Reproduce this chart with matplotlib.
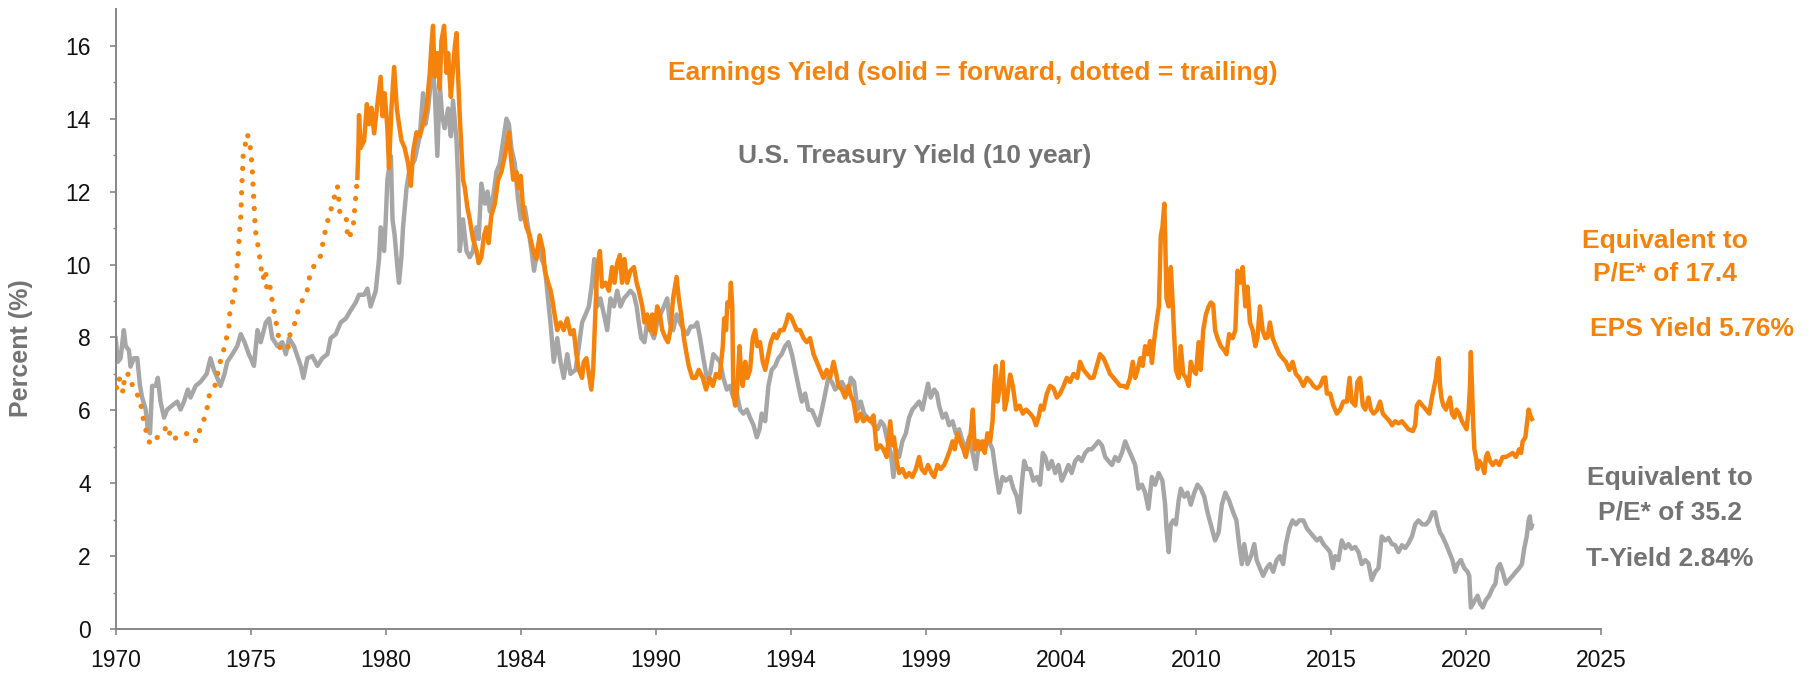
import matplotlib
matplotlib.use("Agg")
import matplotlib.pyplot as plt
import numpy as np

# trailing earnings yield (dotted)
trailing_year = [1970.03, 1970.12, 1970.28, 1970.33, 1970.53, 1970.65, 1970.90, 1970.98, 1971.11, 1971.27,
                 1971.51, 1971.72, 1971.91, 1972.08, 1972.40, 1972.71, 1972.98, 1973.14, 1973.37, 1973.42,
                 1973.66, 1973.86, 1974.03, 1974.19, 1974.23, 1974.38, 1974.45, 1974.50, 1974.55, 1974.58,
                 1974.63, 1974.65, 1974.67, 1974.70, 1974.72, 1974.87, 1974.95, 1975.02, 1975.06, 1975.09,
                 1975.12, 1975.15, 1975.19, 1975.30, 1975.37, 1975.45, 1975.55, 1975.60, 1975.70, 1975.80,
                 1975.91, 1976.01, 1976.09, 1976.24, 1976.38, 1976.46, 1976.67, 1976.79, 1977.07, 1977.17,
                 1977.35, 1977.59, 1977.69, 1977.81, 1977.94, 1978.09, 1978.21, 1978.27, 1978.31, 1978.54,
                 1978.58, 1978.64, 1978.80, 1978.85, 1978.90, 1978.95]
trailing_yield = [6.62, 6.90, 6.48, 7.00, 6.98, 6.57, 6.33, 5.91, 5.48, 5.07,
                  5.24, 5.35, 5.59, 5.17, 5.33, 5.37, 5.15, 5.53, 5.93, 6.35,
                  6.62, 7.30, 7.74, 8.28, 8.72, 9.12, 9.55, 9.99, 10.40, 10.86,
                  11.29, 11.73, 12.16, 12.62, 12.98, 13.58, 13.40, 12.98, 12.57, 12.10,
                  11.70, 11.24, 10.83, 10.39, 9.96, 9.60, 9.85, 9.30, 9.45, 8.98,
                  8.54, 8.11, 7.70, 7.62, 7.70, 8.11, 8.45, 8.87, 9.20, 9.63,
                  9.98, 10.24, 10.67, 11.10, 11.42, 11.84, 12.15, 11.72, 11.32, 11.24,
                  10.83, 10.70, 11.10, 11.53, 11.97, 12.38]

# forward earnings yield (solid)
forward_year = [1978.95, 1978.99, 1979.01, 1979.07, 1979.20, 1979.30, 1979.38, 1979.47, 1979.57, 1979.69,
                1979.81, 1979.88, 1979.96, 1980.06, 1980.12, 1980.21, 1980.31, 1980.41, 1980.49, 1980.58,
                1980.70, 1980.83, 1980.93, 1981.01, 1981.14, 1981.26, 1981.38, 1981.51, 1981.63, 1981.69,
                1981.75, 1981.81, 1981.91, 1982.00, 1982.06, 1982.16, 1982.25, 1982.31, 1982.41, 1982.49,
                1982.56, 1982.62, 1982.68, 1982.74, 1982.80, 1982.86, 1982.93, 1983.02, 1983.11, 1983.23,
                1983.36, 1983.44, 1983.54, 1983.64, 1983.73, 1983.81, 1983.91, 1984.04, 1984.16, 1984.28,
                1984.41, 1984.51, 1984.56, 1984.63, 1984.72, 1984.84, 1984.90, 1985.00, 1985.09, 1985.21,
                1985.33, 1985.46, 1985.58, 1985.70, 1985.83, 1985.89, 1986.01, 1986.10, 1986.16, 1986.25,
                1986.35, 1986.47, 1986.59, 1986.72, 1986.84, 1986.96, 1987.06, 1987.15, 1987.27, 1987.33,
                1987.43, 1987.52, 1987.61, 1987.68, 1987.77, 1987.83, 1987.93, 1988.01, 1988.14, 1988.26,
                1988.38, 1988.47, 1988.57, 1988.67, 1988.75, 1988.84, 1988.94, 1989.06, 1989.19, 1989.29,
                1989.37, 1989.50, 1989.58, 1989.68, 1989.78, 1989.87, 1989.95, 1990.05, 1990.15, 1990.24,
                1990.36, 1990.45, 1990.54, 1990.64, 1990.77, 1990.85, 1990.94, 1991.04, 1991.14, 1991.22,
                1991.35, 1991.47, 1991.59, 1991.74, 1991.86, 1991.99, 1992.11, 1992.23, 1992.36, 1992.48,
                1992.53, 1992.60, 1992.65, 1992.73, 1992.78, 1992.83, 1992.87, 1992.94, 1993.02, 1993.10,
                1993.15, 1993.22, 1993.31, 1993.39, 1993.49, 1993.59, 1993.68, 1993.76, 1993.86, 1993.96,
                1994.05, 1994.17, 1994.26, 1994.38, 1994.48, 1994.60, 1994.73, 1994.83, 1994.91, 1995.00,
                1995.10, 1995.22, 1995.34, 1995.47, 1995.59, 1995.71, 1995.84, 1995.96, 1996.08, 1996.21,
                1996.33, 1996.45, 1996.58, 1996.68, 1996.76, 1996.89, 1997.01, 1997.13, 1997.22, 1997.32,
                1997.44, 1997.57, 1997.69, 1997.81, 1997.94, 1998.06, 1998.18, 1998.31, 1998.43, 1998.55,
                1998.68, 1998.76, 1998.82, 1998.92, 1999.01, 1999.13, 1999.26, 1999.38, 1999.50, 1999.63,
                1999.75, 1999.84, 1999.96, 2000.08, 2000.21, 2000.31, 2000.43, 2000.55, 2000.68, 2000.80,
                2000.90, 2000.99, 2001.07, 2001.17, 2001.27, 2001.39, 2001.48, 2001.57, 2001.66, 2001.74,
                2001.81, 2001.91, 2002.01, 2002.10, 2002.18, 2002.28, 2002.38, 2002.47, 2002.53, 2002.59,
                2002.65, 2002.75, 2002.84, 2002.92, 2003.00, 2003.12, 2003.22, 2003.34, 2003.47, 2003.59,
                2003.71, 2003.86, 2003.98, 2004.08, 2004.17, 2004.26, 2004.35, 2004.48, 2004.60, 2004.73,
                2004.85, 2004.97, 2005.10, 2005.22, 2005.34, 2005.47, 2005.61, 2005.71, 2005.84, 2005.96,
                2006.08, 2006.21, 2006.33, 2006.45, 2006.58, 2006.70, 2006.82, 2006.95, 2007.07, 2007.19,
                2007.32, 2007.44, 2007.56, 2007.66, 2007.75, 2007.84, 2007.94, 2008.03, 2008.12, 2008.21,
                2008.30, 2008.37, 2008.45, 2008.54, 2008.63, 2008.70, 2008.76, 2008.83, 2008.86, 2008.91,
                2008.99, 2009.07, 2009.13, 2009.20, 2009.26, 2009.36, 2009.44, 2009.53, 2009.63, 2009.73,
                2009.81, 2009.90, 2010.00, 2010.10, 2010.18, 2010.27, 2010.37, 2010.47, 2010.55, 2010.64,
                2010.71, 2010.80, 2010.92, 2011.05, 2011.13, 2011.23, 2011.36, 2011.46, 2011.54, 2011.63,
                2011.73, 2011.83, 2011.91, 2012.00, 2012.10, 2012.20, 2012.28, 2012.37, 2012.47, 2012.57,
                2012.65, 2012.74, 2012.84, 2012.96, 2013.09, 2013.21, 2013.33, 2013.46, 2013.58, 2013.70,
                2013.83, 2013.98, 2014.11, 2014.23, 2014.35, 2014.48, 2014.60, 2014.72, 2014.79, 2014.85,
                2014.97, 2015.09, 2015.22, 2015.34, 2015.46, 2015.59, 2015.69, 2015.77, 2015.90, 2015.98,
                2016.08, 2016.18, 2016.27, 2016.39, 2016.48, 2016.58, 2016.70, 2016.82, 2016.92, 2017.05,
                2017.17, 2017.26, 2017.38, 2017.50, 2017.63, 2017.75, 2017.87, 2018.03, 2018.12, 2018.18,
                2018.27, 2018.39, 2018.52, 2018.64, 2018.74, 2018.83, 2018.89, 2018.95, 2018.99, 2019.04,
                2019.09, 2019.16, 2019.26, 2019.36, 2019.41, 2019.48, 2019.57, 2019.65, 2019.75, 2019.85,
                2019.94, 2020.02, 2020.10, 2020.15, 2020.18, 2020.22, 2020.27, 2020.31, 2020.37, 2020.43,
                2020.49, 2020.59, 2020.68, 2020.74, 2020.80, 2020.89, 2020.99, 2021.11, 2021.23, 2021.36,
                2021.48, 2021.60, 2021.73, 2021.85, 2021.97, 2022.04, 2022.10, 2022.20, 2022.25, 2022.32,
                2022.41, 2022.44]
forward_yield = [12.38, 13.30, 14.10, 13.20, 13.40, 14.40, 13.85, 14.30, 13.60, 14.40,
                 15.15, 14.07, 14.70, 13.74, 12.65, 14.28, 15.42, 14.28, 13.85, 13.41,
                 13.20, 12.76, 12.16, 13.09, 13.63, 13.52, 13.85, 14.28, 15.26, 16.00,
                 16.55, 15.15, 15.80, 14.83, 16.13, 16.55, 15.26, 15.80, 14.60, 15.37,
                 16.00, 16.35, 15.15, 14.07, 13.20, 12.33, 12.10, 11.57, 11.24, 10.70,
                 10.37, 10.04, 10.20, 10.80, 11.02, 10.59, 11.35, 11.67, 12.33, 12.54,
                 12.98, 13.41, 13.63, 12.98, 12.33, 12.54, 12.10, 12.43, 11.46, 11.02,
                 10.80, 10.37, 10.15, 10.80, 10.37, 9.83, 9.50, 9.30, 9.07, 8.63,
                 8.20, 8.41, 8.20, 8.52, 8.09, 8.20, 7.54, 7.11, 6.89, 7.33,
                 7.43, 7.00, 6.57, 7.11, 8.85, 9.93, 10.37, 9.39, 9.50, 9.28,
                 9.93, 9.50, 10.04, 10.26, 9.50, 10.15, 9.50, 9.83, 9.93, 9.50,
                 9.28, 8.85, 8.41, 8.63, 8.20, 8.63, 8.09, 8.85, 8.63, 8.20,
                 7.98, 7.87, 8.20, 9.07, 9.66, 9.07, 8.63, 7.98, 7.54, 7.22,
                 6.89, 6.89, 7.11, 6.89, 6.57, 6.89, 6.67, 7.00, 6.89, 7.76,
                 8.52, 8.20, 8.96, 8.85, 9.50, 8.85, 6.46, 6.13, 6.67, 7.76,
                 7.11, 6.67, 7.33, 6.89, 7.11, 7.98, 8.20, 7.76, 7.87, 7.33,
                 7.11, 7.54, 7.87, 8.09, 7.98, 8.20, 8.20, 8.41, 8.63, 8.58,
                 8.41, 8.20, 8.20, 7.98, 7.87, 7.98, 7.54, 7.33, 7.11, 6.89,
                 7.11, 6.89, 7.33, 7.00, 6.67, 6.57, 6.35, 6.67, 6.40, 6.24,
                 5.70, 5.91, 5.70, 5.80, 5.70, 5.86, 4.93, 5.04, 4.93, 4.72,
                 5.70, 5.04, 5.26, 4.61, 4.28, 4.39, 4.17, 4.28, 4.17, 4.39,
                 4.72, 4.39, 4.28, 4.50, 4.28, 4.17, 4.50, 4.39, 4.50, 4.72,
                 4.93, 5.15, 4.93, 5.37, 5.15, 4.93, 4.72, 5.04, 5.37, 6.02,
                 4.93, 5.15, 4.93, 5.15, 4.83, 5.37, 5.15, 5.70, 6.67, 7.22,
                 6.24, 6.67, 7.33, 6.02, 6.30, 6.98, 6.67, 6.02, 6.13, 5.91,
                 6.02, 5.91, 5.80, 5.59, 5.80, 6.13, 6.02, 6.46, 6.67, 6.60,
                 6.35, 6.46, 6.67, 6.89, 6.78, 7.00, 6.89, 7.33, 7.11, 7.00,
                 6.89, 6.90, 7.22, 7.54, 7.43, 7.22, 7.00, 6.89, 6.78, 6.67,
                 6.67, 6.62, 6.89, 7.33, 6.89, 7.11, 7.43, 7.22, 7.76, 7.54,
                 7.90, 7.30, 7.90, 8.41, 8.85, 10.80, 11.02, 11.67, 10.80, 9.07,
                 8.85, 9.93, 9.07, 7.98, 7.11, 6.89, 7.76, 7.00, 6.89, 6.67,
                 7.33, 7.11, 7.00, 7.87, 7.11, 8.20, 8.63, 8.85, 8.96, 8.90,
                 8.20, 7.98, 7.76, 7.65, 7.54, 8.09, 7.98, 8.20, 9.83, 9.50,
                 9.93, 8.85, 9.39, 8.41, 8.20, 7.76, 8.00, 8.85, 8.20, 7.98,
                 8.00, 8.41, 7.98, 7.76, 7.54, 7.43, 7.33, 7.11, 7.33, 7.00,
                 6.89, 6.67, 6.89, 6.80, 6.67, 6.60, 6.67, 6.89, 6.90, 6.46,
                 6.46, 6.13, 5.91, 6.02, 6.24, 6.24, 6.89, 6.24, 6.13, 6.78,
                 6.89, 6.13, 6.02, 6.35, 6.02, 5.91, 6.00, 6.24, 5.91, 5.80,
                 5.70, 5.59, 5.70, 5.64, 5.70, 5.59, 5.48, 5.43, 5.59, 6.13,
                 6.24, 6.13, 6.02, 5.91, 6.35, 6.67, 6.89, 7.33, 7.43, 6.67,
                 6.35, 6.13, 6.02, 6.24, 6.35, 5.91, 5.80, 6.02, 5.91, 5.70,
                 5.59, 5.48, 6.02, 6.67, 7.60, 6.67, 5.59, 4.93, 4.72, 4.39,
                 4.61, 4.50, 4.28, 4.72, 4.83, 4.61, 4.50, 4.61, 4.50, 4.72,
                 4.72, 4.77, 4.83, 4.72, 4.93, 4.83, 5.15, 5.26, 5.59, 6.02,
                 5.80, 5.76]

# 10-year U.S. Treasury yield
tsy_year = [1970.00, 1970.08, 1970.18, 1970.30, 1970.37, 1970.49, 1970.55, 1970.67, 1970.80, 1970.90,
            1970.98, 1971.11, 1971.19, 1971.27, 1971.35, 1971.48, 1971.56, 1971.66, 1971.79, 1971.91,
            1972.09, 1972.28, 1972.40, 1972.53, 1972.67, 1972.77, 1972.96, 1973.14, 1973.37, 1973.51,
            1973.64, 1973.76, 1973.88, 1974.03, 1974.13, 1974.32, 1974.50, 1974.63, 1974.77, 1974.93,
            1975.06, 1975.12, 1975.25, 1975.37, 1975.56, 1975.68, 1975.80, 1975.99, 1976.17, 1976.30,
            1976.42, 1976.60, 1976.85, 1976.95, 1977.10, 1977.28, 1977.47, 1977.65, 1977.84, 1977.96,
            1978.15, 1978.33, 1978.52, 1978.70, 1978.89, 1979.01, 1979.20, 1979.32, 1979.44, 1979.63,
            1979.75, 1979.81, 1979.94, 1980.00, 1980.06, 1980.19, 1980.25, 1980.33, 1980.43, 1980.49,
            1980.58, 1980.64, 1980.77, 1980.89, 1981.07, 1981.26, 1981.38, 1981.47, 1981.57, 1981.69,
            1981.72, 1981.81, 1981.91, 1982.00, 1982.09, 1982.18, 1982.31, 1982.41, 1982.49, 1982.62,
            1982.68, 1982.74, 1982.86, 1982.99, 1983.11, 1983.23, 1983.36, 1983.44, 1983.54, 1983.67,
            1983.77, 1983.85, 1983.98, 1984.10, 1984.22, 1984.35, 1984.47, 1984.56, 1984.65, 1984.78,
            1984.90, 1985.00, 1985.15, 1985.27, 1985.40, 1985.49, 1985.58, 1985.67, 1985.77, 1985.89,
            1986.01, 1986.10, 1986.22, 1986.35, 1986.47, 1986.59, 1986.72, 1986.84, 1987.03, 1987.15,
            1987.27, 1987.40, 1987.52, 1987.64, 1987.72, 1987.83, 1987.95, 1988.08, 1988.20, 1988.32,
            1988.45, 1988.57, 1988.69, 1988.82, 1988.94, 1989.06, 1989.19, 1989.29, 1989.37, 1989.46,
            1989.58, 1989.68, 1989.80, 1989.93, 1990.05, 1990.17, 1990.30, 1990.42, 1990.52, 1990.64,
            1990.77, 1990.89, 1991.04, 1991.16, 1991.29, 1991.43, 1991.53, 1991.64, 1991.76, 1991.89,
            1992.01, 1992.13, 1992.26, 1992.38, 1992.50, 1992.63, 1992.75, 1992.87, 1993.00, 1993.12,
            1993.24, 1993.37, 1993.49, 1993.62, 1993.74, 1993.84, 1993.92, 1994.05, 1994.17, 1994.29,
            1994.42, 1994.54, 1994.66, 1994.79, 1994.91, 1995.04, 1995.16, 1995.28, 1995.41, 1995.53,
            1995.65, 1995.78, 1995.90, 1996.02, 1996.15, 1996.27, 1996.39, 1996.52, 1996.64, 1996.76,
            1996.89, 1997.01, 1997.13, 1997.22, 1997.34, 1997.47, 1997.59, 1997.71, 1997.84, 1997.96,
            1998.08, 1998.21, 1998.33, 1998.45, 1998.58, 1998.70, 1998.80, 1998.89, 1999.01, 1999.13,
            1999.26, 1999.38, 1999.50, 1999.63, 1999.75, 1999.87, 2000.00, 2000.08, 2000.18, 2000.31,
            2000.41, 2000.49, 2000.62, 2000.74, 2000.86, 2000.99, 2001.11, 2001.23, 2001.36, 2001.48,
            2001.60, 2001.73, 2001.85, 2001.97, 2002.10, 2002.22, 2002.34, 2002.47, 2002.59, 2002.71,
            2002.84, 2002.96, 2003.12, 2003.24, 2003.37, 2003.47, 2003.55, 2003.64, 2003.74, 2003.86,
            2003.98, 2004.11, 2004.23, 2004.33, 2004.42, 2004.54, 2004.66, 2004.79, 2004.91, 2005.03,
            2005.16, 2005.28, 2005.40, 2005.53, 2005.65, 2005.77, 2005.90, 2006.02, 2006.14, 2006.27,
            2006.39, 2006.52, 2006.64, 2006.76, 2006.89, 2007.01, 2007.13, 2007.26, 2007.38, 2007.50,
            2007.63, 2007.75, 2007.87, 2008.00, 2008.12, 2008.24, 2008.37, 2008.49, 2008.62, 2008.76,
            2008.86, 2008.91, 2008.99, 2009.07, 2009.16, 2009.26, 2009.36, 2009.44, 2009.57, 2009.69,
            2009.81, 2009.94, 2010.06, 2010.18, 2010.31, 2010.43, 2010.55, 2010.71, 2010.84, 2010.96,
            2011.09, 2011.23, 2011.38, 2011.50, 2011.60, 2011.70, 2011.79, 2011.91, 2012.04, 2012.16,
            2012.25, 2012.37, 2012.49, 2012.62, 2012.74, 2012.86, 2012.99, 2013.11, 2013.23, 2013.33,
            2013.46, 2013.58, 2013.70, 2013.83, 2013.98, 2014.11, 2014.23, 2014.35, 2014.48, 2014.60,
            2014.72, 2014.85, 2014.97, 2015.07, 2015.16, 2015.28, 2015.40, 2015.53, 2015.65, 2015.77,
            2015.90, 2016.02, 2016.14, 2016.27, 2016.39, 2016.51, 2016.64, 2016.76, 2016.88, 2017.01,
            2017.13, 2017.26, 2017.38, 2017.50, 2017.63, 2017.75, 2017.87, 2018.00, 2018.12, 2018.24,
            2018.39, 2018.52, 2018.64, 2018.76, 2018.86, 2018.95, 2019.04, 2019.13, 2019.26, 2019.38,
            2019.50, 2019.60, 2019.69, 2019.81, 2019.94, 2020.06, 2020.12, 2020.18, 2020.27, 2020.34,
            2020.43, 2020.52, 2020.62, 2020.74, 2020.86, 2020.99, 2021.09, 2021.17, 2021.26, 2021.36,
            2021.48, 2021.60, 2021.73, 2021.85, 2021.97, 2022.07, 2022.16, 2022.25, 2022.32, 2022.37,
            2022.41, 2022.44]
tsy_yield = [7.98, 7.33, 7.43, 8.20, 7.76, 7.65, 7.20, 7.43, 7.43, 6.67,
             6.35, 6.02, 5.48, 5.37, 6.67, 6.67, 6.89, 6.24, 5.80, 6.02,
             6.13, 6.24, 6.02, 6.24, 6.57, 6.35, 6.67, 6.78, 7.00, 7.43,
             7.10, 6.89, 6.67, 7.00, 7.33, 7.54, 7.76, 8.09, 7.87, 7.54,
             7.33, 7.22, 8.20, 7.87, 8.41, 8.52, 7.98, 7.76, 7.87, 7.54,
             7.98, 7.76, 7.22, 6.89, 7.43, 7.49, 7.22, 7.43, 7.54, 7.98,
             8.09, 8.41, 8.52, 8.74, 8.96, 9.17, 9.17, 9.34, 8.85, 9.28,
             10.15, 11.02, 10.37, 11.24, 12.33, 12.98, 11.24, 10.80, 9.93, 9.50,
             10.20, 11.02, 12.10, 12.65, 12.87, 13.52, 14.70, 13.85, 14.28, 15.20,
             15.50, 14.83, 12.98, 14.93, 14.07, 13.74, 14.28, 13.52, 14.50, 13.41,
             12.33, 10.37, 11.24, 10.37, 10.20, 10.37, 11.02, 10.70, 12.22, 11.67,
             12.00, 11.46, 11.89, 12.54, 12.76, 13.41, 14.00, 13.85, 13.20, 12.76,
             11.78, 11.24, 11.57, 11.02, 10.37, 9.83, 10.26, 10.59, 10.15, 9.93,
             9.07, 8.40, 7.33, 7.98, 7.33, 6.89, 7.54, 7.00, 7.11, 7.76,
             8.41, 8.63, 8.85, 9.50, 10.15, 8.85, 9.07, 8.63, 8.20, 9.07,
             8.85, 9.28, 8.85, 9.07, 9.17, 9.28, 9.17, 8.85, 8.41, 7.98,
             7.87, 8.41, 8.20, 7.98, 8.41, 8.63, 8.85, 9.07, 8.41, 8.20,
             8.63, 8.41, 8.20, 8.09, 8.30, 8.30, 8.41, 7.98, 7.43, 6.89,
             7.00, 7.54, 7.43, 7.33, 6.89, 6.57, 6.67, 6.35, 6.46, 6.02,
             5.91, 6.02, 5.80, 5.59, 5.26, 5.48, 5.91, 5.70, 6.67, 7.11,
             7.22, 7.43, 7.54, 7.76, 7.87, 7.54, 7.11, 6.67, 6.24, 6.46,
             6.02, 6.00, 5.80, 5.59, 6.02, 6.46, 6.89, 6.78, 6.57, 6.67,
             6.78, 6.60, 6.46, 6.89, 6.78, 6.02, 6.24, 5.91, 5.80, 5.70,
             5.59, 5.48, 5.70, 5.59, 5.15, 4.83, 4.17, 4.93, 4.72, 5.15,
             5.37, 5.80, 6.02, 6.13, 6.24, 6.02, 6.46, 6.73, 6.35, 6.57,
             6.46, 6.13, 5.80, 5.91, 5.59, 5.70, 5.37, 5.48, 5.15, 4.93,
             5.26, 4.83, 4.39, 5.15, 4.93, 5.04, 5.15, 4.93, 4.28, 3.74,
             4.17, 4.07, 4.17, 3.85, 3.63, 3.20, 3.96, 4.61, 4.39, 4.39,
             4.07, 4.17, 3.96, 4.83, 4.72, 4.39, 4.61, 4.28, 4.50, 4.07,
             4.28, 4.50, 4.28, 4.61, 4.72, 4.61, 4.83, 4.93, 4.93, 5.04,
             5.15, 5.04, 4.72, 4.61, 4.50, 4.72, 4.61, 4.83, 5.15, 4.93,
             4.72, 4.50, 3.85, 3.96, 3.74, 3.30, 4.17, 3.96, 4.28, 4.07,
             3.41, 2.76, 2.11, 2.87, 2.98, 2.87, 3.52, 3.85, 3.63, 3.74,
             3.41, 3.74, 3.96, 3.85, 3.63, 3.20, 2.87, 2.43, 2.65, 3.41,
             3.74, 3.52, 3.20, 2.98, 2.33, 1.78, 2.33, 1.78, 2.00, 2.33,
             1.89, 1.67, 1.46, 1.67, 1.78, 1.57, 1.89, 2.00, 1.78, 2.33,
             2.76, 2.98, 2.87, 2.98, 2.98, 2.76, 2.65, 2.54, 2.43, 2.50,
             2.33, 2.22, 2.11, 1.67, 2.00, 1.89, 2.43, 2.22, 2.33, 2.20,
             2.25, 2.11, 1.78, 1.89, 1.80, 1.35, 1.57, 1.67, 2.54, 2.43,
             2.50, 2.33, 2.30, 2.11, 2.30, 2.22, 2.35, 2.54, 2.87, 2.98,
             2.87, 2.87, 2.98, 3.20, 3.20, 2.87, 2.65, 2.54, 2.33, 2.11,
             1.89, 1.57, 1.78, 1.89, 1.67, 1.57, 1.46, 0.59, 0.70, 0.80,
             0.91, 0.70, 0.59, 0.80, 0.91, 1.13, 1.24, 1.67, 1.78, 1.57,
             1.24, 1.35, 1.46, 1.57, 1.67, 1.78, 2.22, 2.54, 2.98, 3.09,
             2.76, 2.84]

tick_years = [1970, 1975, 1980, 1985, 1990, 1995, 2000, 2005, 2010, 2015, 2020, 2025]
tick_labels = ['1970', '1975', '1980', '1984', '1990', '1994', '1999', '2004', '2010', '2015', '2020', '2025']

ORANGE = '#F5820A'
GREY_LINE = '#A6A6A6'
GREY_TEXT = '#737373'

plt.rcParams['font.family'] = ['Liberation Sans', 'DejaVu Sans']

W, H = 1810, 673
fig = plt.figure(figsize=(W / 100, H / 100), dpi=100)
ax = fig.add_axes([115.7 / W, 44 / H, (1601 - 115.7) / W, (629 - 9.4) / H])

ax.plot(tsy_year, tsy_yield, color=GREY_LINE, lw=3.2, solid_joinstyle='round', zorder=2)
ax.plot(forward_year, forward_yield, color=ORANGE, lw=3.2, solid_joinstyle='round', zorder=3)
ax.plot(trailing_year, trailing_yield, color=ORANGE, lw=3.8, linestyle=(0, (0.01, 2.3)),
        dash_capstyle='round', zorder=3)

ax.set_xlim(1970, 2025)
ax.set_ylim(0, 17)
ax.set_xticks(tick_years)
ax.set_xticklabels(tick_labels)
ax.set_yticks(np.arange(0, 17, 2))
ax.set_yticks(np.arange(1, 17, 2), minor=True)

for s in ['top', 'right']:
    ax.spines[s].set_visible(False)
for s in ['left', 'bottom']:
    ax.spines[s].set_color('#868686')
    ax.spines[s].set_linewidth(1.4)

ax.tick_params(axis='x', which='major', length=4.5, width=1.2, color='#868686',
               labelsize=16.5, pad=10, labelcolor='#111111')
ax.tick_params(axis='y', which='major', length=4, width=1.2, color='#868686',
               labelsize=16.5, pad=14, labelcolor='#111111')
ax.tick_params(axis='y', which='minor', length=2, width=1.0, color='#868686')

fig.text(21 / W, 1 - 348 / H, 'Percent (%)', rotation=90, ha='center', va='center',
         fontsize=18, fontweight='bold', color=GREY_TEXT)


def label(x, y, s, color):
    fig.text(x / W, 1 - y / H, s, ha='center', va='baseline', fontsize=19,
             fontweight='bold', color=color)


label(973, 80, 'Earnings Yield (solid = forward, dotted = trailing)', ORANGE)
label(915, 163, 'U.S. Treasury Yield (10 year)', GREY_TEXT)
label(1665, 248, 'Equivalent to', ORANGE)
label(1665, 280, 'P/E* of 17.4', ORANGE)
label(1692, 336, 'EPS Yield 5.76%', ORANGE)
label(1670, 485, 'Equivalent to', GREY_TEXT)
label(1670, 520, 'P/E* of 35.2', GREY_TEXT)
label(1670, 566, 'T-Yield 2.84%', GREY_TEXT)

fig.savefig('out.png', dpi=100)
